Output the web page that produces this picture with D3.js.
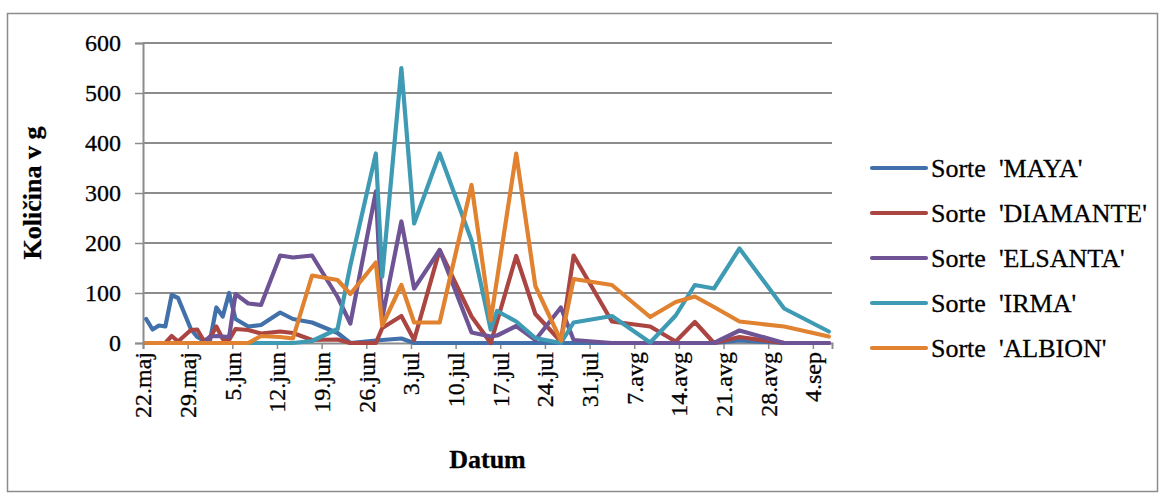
<!DOCTYPE html>
<html>
<head>
<meta charset="utf-8">
<script src="https://cdn.jsdelivr.net/npm/d3@7"></script>
<style>
  body { margin: 0; background: #fff; }
  svg text { font-family: "Liberation Serif", "Times New Roman", serif; fill: #000; stroke: #000; stroke-width: 0.3px; }
</style>
</head>
<body>
<svg id="chart" width="1166" height="496"></svg>
<script>
// Harvest dates (day.month)
const dates = [
  "22.05","23.05","24.05","25.05","26.05","27.05","29.05","30.05","31.05",
  "01.06","02.06","03.06","04.06","05.06","07.06","09.06","12.06","14.06","17.06","21.06","23.06","27.06","28.06",
  "01.07","03.07","07.07","12.07","15.07","16.07","19.07","22.07","26.07","28.07",
  "03.08","09.08","13.08","16.08","19.08","23.08","30.08","06.09"
];

// Quantity in grams per variety
const maya     = [48,27,35,33,96,90,28,12,5,5,71,53,100,48,33,36,61,48,41,20,0,5,6,9,0,0,0,0,0,0,0,0,0,0,0,0,0,0,5,0,0];
const diamante = [0,0,0,0,14,3,26,27,5,10,33,8,6,28,26,19,23,20,6,7,0,0,30,54,6,186,53,0,43,174,58,3,175,43,33,3,42,0,12,0,0];
const elsanta  = [0,0,0,0,0,0,0,0,0,13,14,13,12,98,79,76,175,171,175,92,39,303,50,243,109,186,21,13,15,34,6,71,6,0,0,0,0,0,25,0,0];
const irma     = [0,0,0,0,0,0,0,0,0,0,0,0,0,0,0,0,0,0,4,28,155,379,133,550,239,379,205,27,64,43,10,0,41,54,1,55,116,109,189,69,23];
const albion   = [0,0,0,0,0,0,0,0,0,0,0,0,0,0,0,14,12,9,135,126,98,161,35,116,41,41,316,45,128,379,114,5,128,116,52,82,93,72,43,33,13];

const seriesNames  = ["Sorte  'MAYA'", "Sorte  'DIAMANTE'", "Sorte  'ELSANTA'", "Sorte  'IRMA'", "Sorte  'ALBION'"];
const seriesColors = ["#4170aa", "#aa4542", "#6e5494", "#3f9bb4", "#e0822f"];
const seriesValues = [maya, diamante, elsanta, irma, albion];

// Weekly axis labels
const tickDates  = ["22.05","29.05","05.06","12.06","19.06","26.06","03.07","10.07","17.07","24.07","31.07","07.08","14.08","21.08","28.08","04.09"];
const tickLabels = ["22.maj","29.maj","5.jun","12.jun","19.jun","26.jun","3.jul","10.jul","17.jul","24.jul","31.jul","7.avg","14.avg","21.avg","28.avg","4.sep"];
const yTicks = [0,100,200,300,400,500,600];

const serif = '"Liberation Serif", "Times New Roman", serif';
const parseDay = s => { const [d, m] = s.split(".").map(Number); return new Date(2013, m - 1, d); };
const atNoon = s => d3.timeHour.offset(parseDay(s), 12);

const svg = d3.select("#chart");
const plot = { left: 143, right: 832, top: 43, bottom: 343 };

// outer frame
svg.append("rect")
  .attr("x", 7.5).attr("y", 13.5).attr("width", 1150).attr("height", 478)
  .attr("fill", "#fff").attr("stroke", "#8c8c8c").attr("stroke-width", 1.5);

const x = d3.scaleTime()
  .domain([parseDay("22.05"), parseDay("07.09")])
  .range([plot.left, plot.right]);
const y = d3.scaleLinear().domain([0, 600]).range([plot.bottom, plot.top]);

// horizontal gridlines
svg.append("g").selectAll("line").data(yTicks.filter(v => v > 0)).join("line")
  .attr("x1", plot.left).attr("x2", plot.right)
  .attr("y1", d => y(d)).attr("y2", d => y(d))
  .attr("stroke", "#8c8c8c").attr("stroke-width", 2);

// y axis
const yAxis = svg.append("g").attr("transform", `translate(${plot.left},0)`)
  .call(d3.axisLeft(y).tickValues(yTicks).tickSize(8).tickPadding(14));
yAxis.select(".domain").attr("stroke", "#8c8c8c").attr("stroke-width", 2);
yAxis.selectAll(".tick line").attr("stroke", "#8c8c8c").attr("stroke-width", 1.5);
yAxis.selectAll(".tick text").attr("font-size", 24).style("font-family", serif);

// x axis
const xAxis = svg.append("g").attr("transform", `translate(0,${plot.bottom})`)
  .call(d3.axisBottom(x).tickValues(tickDates.map(parseDay)).tickSize(6).tickFormat(""));
xAxis.select(".domain").attr("stroke", "#8c8c8c").attr("stroke-width", 2);
xAxis.selectAll(".tick line").attr("stroke", "#8c8c8c").attr("stroke-width", 1.5);

svg.append("g").selectAll("text").data(tickDates).join("text")
  .attr("transform", d => `translate(${x(parseDay(d))},${plot.bottom + 9}) rotate(-90)`)
  .attr("text-anchor", "end").attr("dy", "0.35em")
  .attr("font-size", 24)
  .style("font-family", serif)
  .text((d, i) => tickLabels[i]);

// series lines
const line = d3.line()
  .x((v, i) => x(atNoon(dates[i])))
  .y(v => y(v));

svg.append("g").selectAll("path").data(seriesValues).join("path")
  .attr("d", d => line(d))
  .attr("fill", "none")
  .attr("stroke", (d, i) => seriesColors[i])
  .attr("stroke-width", 4.2)
  .attr("stroke-linejoin", "round")
  .attr("stroke-linecap", "round");

// axis titles
svg.append("text")
  .attr("x", (plot.left + plot.right) / 2).attr("y", 468)
  .attr("text-anchor", "middle").attr("font-size", 26).attr("font-weight", "bold")
  .style("font-family", serif)
  .text("Datum");

svg.append("text")
  .attr("transform", `translate(41,193) rotate(-90)`)
  .attr("text-anchor", "middle").attr("font-size", 26).attr("font-weight", "bold")
  .style("font-family", serif)
  .text("Količina v g");

// legend
const legend = svg.append("g").selectAll("g").data(seriesNames).join("g")
  .attr("transform", (d, i) => `translate(872,${168 + i * 45})`);
legend.append("line")
  .attr("x1", 0).attr("x2", 54).attr("y1", 0).attr("y2", 0)
  .attr("stroke", (d, i) => seriesColors[i]).attr("stroke-width", 4.2)
  .attr("stroke-linecap", "round");
legend.append("text")
  .attr("x", 59).attr("dy", "0.33em")
  .attr("font-size", 26)
  .style("font-family", serif)
  .style("white-space", "pre")
  .text(d => d);
</script>
</body>
</html>
